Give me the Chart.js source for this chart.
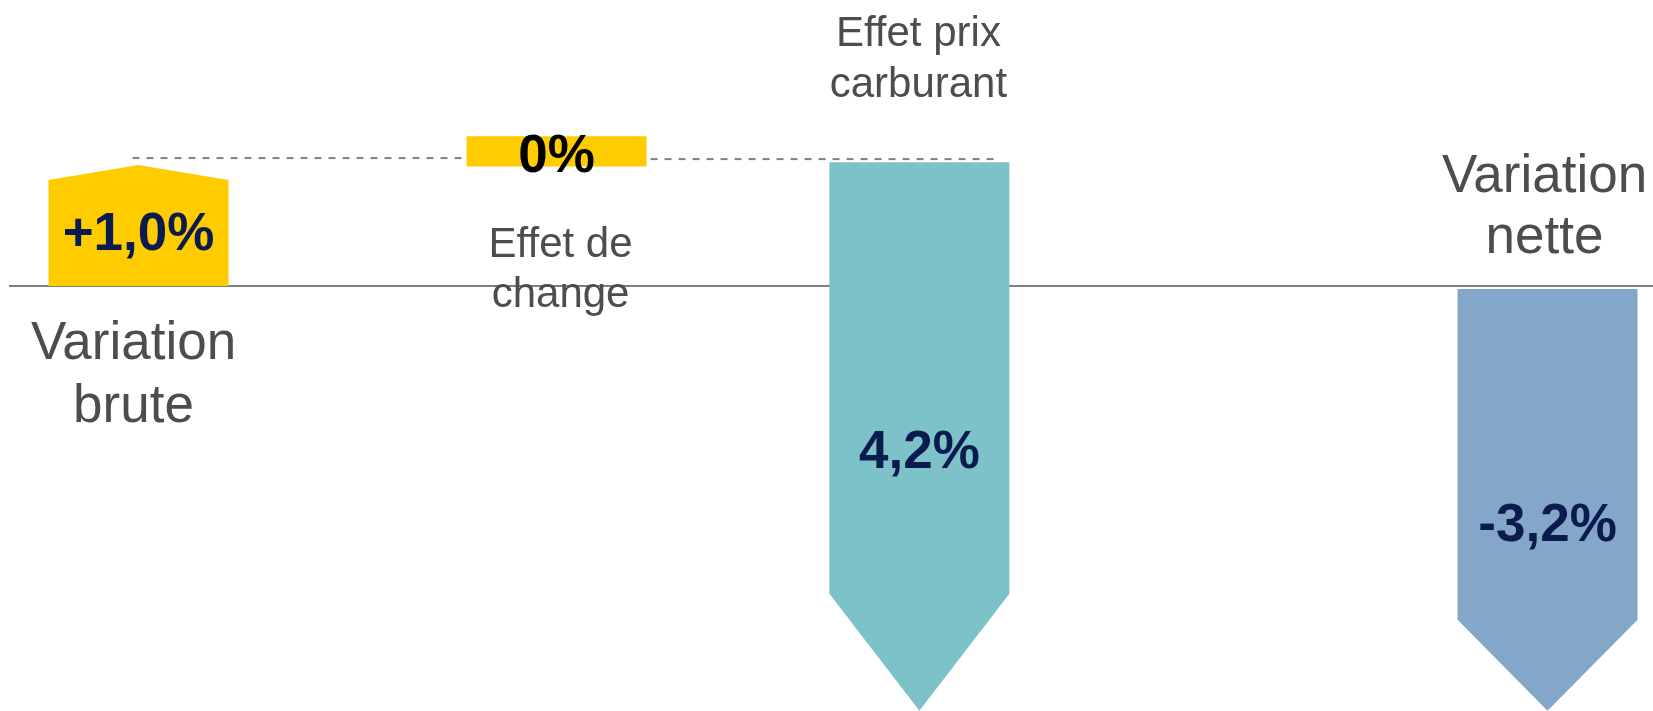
<!DOCTYPE html>
<html>
<head>
<meta charset="utf-8">
<script src="https://cdn.jsdelivr.net/npm/chart.js@4.4.0/dist/chart.umd.min.js"></script>
<style>
  html, body { margin: 0; padding: 0; background: #fff; }
  #wrap { width: 1653px; height: 711px; position: relative; }
</style>
</head>
<body>
<div id="wrap"><canvas id="bridgeChart"></canvas></div>
<script>
// values (in % points)
var categories = [['Variation', 'brute'], ['Effet de', 'change'], ['Effet prix', 'carburant'], ['Variation', 'nette']];
var valueLabels = ['+1,0%', '0%', '4,2%', '-3,2%'];
var barStart = [0, 1.15, 1.19, -0.03];
var barEnd = [1.02, 1.44, -2.96, -3.21];
var connectorLevel = [1.23, 1.22];

// layout (x axis runs 0..100 across the slide)
var barPos = [8.38, 33.67, 55.62, 93.62];
var barColors = ['#ffcc00', '#ffcc00', '#7dc2c8', '#84a6c8'];
var headDepth = [15, 0, 117, 91];
var valueColors = ['#0b1b4f', '#000000', '#0b1b4f', '#0b1b4f'];
var valueDy = [-36, -114, 182, 255];          // baseline, from zero line
var catDx = [-5, 4, -1, -3];
var catDy = [[73, 136], [-29, 21], [-240, -189], [-94, -33]];
var catSize = [53, 42, 42, 53];

var FONT = '"Liberation Sans", Arial, Helvetica, sans-serif';

var bridgePlugin = {
  id: 'bridge',
  beforeDatasetsDraw: function(chart) {
    var ctx = chart.ctx;
    var zero = chart.scales.y.getPixelForValue(0);
    ctx.save();
    ctx.strokeStyle = '#808080';
    ctx.lineWidth = 2;
    ctx.beginPath();
    ctx.moveTo(9, zero);
    ctx.lineTo(chart.width, zero);
    ctx.stroke();

    // category labels
    var bars = chart.getDatasetMeta(0).data;
    ctx.fillStyle = '#4d4d4d';
    ctx.textAlign = 'center';
    ctx.textBaseline = 'alphabetic';
    for (var i = 0; i < bars.length; i++) {
      ctx.font = catSize[i] + 'px ' + FONT;
      for (var l = 0; l < categories[i].length; l++) {
        ctx.fillText(categories[i][l], bars[i].x + catDx[i], zero + catDy[i][l]);
      }
    }
    ctx.restore();
  },
  beforeDatasetDraw: function(chart, args) {
    var ctx = chart.ctx;
    var bars = args.meta.data;
    ctx.save();
    for (var i = 0; i < bars.length; i++) {
      var b = bars[i];
      var half = b.width / 2;
      var left = b.x - half, right = b.x + half;
      var top = Math.min(b.y, b.base), bottom = Math.max(b.y, b.base);
      var up = barEnd[i] > barStart[i];
      var h = headDepth[i];
      ctx.fillStyle = barColors[i];
      ctx.beginPath();
      if (up) {
        ctx.moveTo(left, bottom);
        ctx.lineTo(left, top);
        ctx.lineTo(b.x, top - h);
        ctx.lineTo(right, top);
        ctx.lineTo(right, bottom);
      } else {
        ctx.moveTo(left, top);
        ctx.lineTo(right, top);
        ctx.lineTo(right, bottom);
        ctx.lineTo(b.x, bottom + h);
        ctx.lineTo(left, bottom);
      }
      ctx.closePath();
      ctx.fill();
    }
    ctx.restore();
    return false;
  },
  afterDatasetsDraw: function(chart) {
    var ctx = chart.ctx;
    var y = chart.scales.y;
    var zero = y.getPixelForValue(0);
    var bars = chart.getDatasetMeta(0).data;
    ctx.save();

    // dashed connectors
    ctx.strokeStyle = '#808080';
    ctx.lineWidth = 2;
    ctx.setLineDash([7, 7]);
    var c1 = y.getPixelForValue(connectorLevel[0]);
    ctx.beginPath();
    ctx.moveTo(bars[0].x - 6, c1);
    ctx.lineTo(bars[1].x - bars[1].width / 2 - 4, c1);
    ctx.stroke();
    var c2 = y.getPixelForValue(connectorLevel[1]);
    ctx.beginPath();
    ctx.moveTo(bars[1].x + bars[1].width / 2 + 4, c2);
    ctx.lineTo(bars[2].x + bars[2].width / 2 - 13, c2);
    ctx.stroke();
    ctx.setLineDash([]);

    // value labels
    ctx.textAlign = 'center';
    ctx.textBaseline = 'alphabetic';
    ctx.font = 'bold 53px ' + FONT;
    for (var i = 0; i < bars.length; i++) {
      ctx.fillStyle = valueColors[i];
      ctx.fillText(valueLabels[i], bars[i].x, zero + valueDy[i]);
    }
    ctx.restore();
  }
};

var pts = [];
for (var i = 0; i < barPos.length; i++) {
  pts.push({ x: barPos[i], y: [barStart[i], barEnd[i]] });
}

new Chart(document.getElementById('bridgeChart'), {
  type: 'bar',
  data: {
    datasets: [{
      data: pts,
      backgroundColor: barColors,
      barThickness: 180
    }]
  },
  options: {
    responsive: true,
    maintainAspectRatio: false,
    animation: false,
    layout: { padding: 0 },
    plugins: { legend: { display: false }, tooltip: { enabled: false } },
    scales: {
      x: { type: 'linear', min: 0, max: 100, offset: false, display: false },
      y: { min: -4.087, max: 2.75, display: false }
    }
  },
  plugins: [bridgePlugin]
});
</script>
</body>
</html>
